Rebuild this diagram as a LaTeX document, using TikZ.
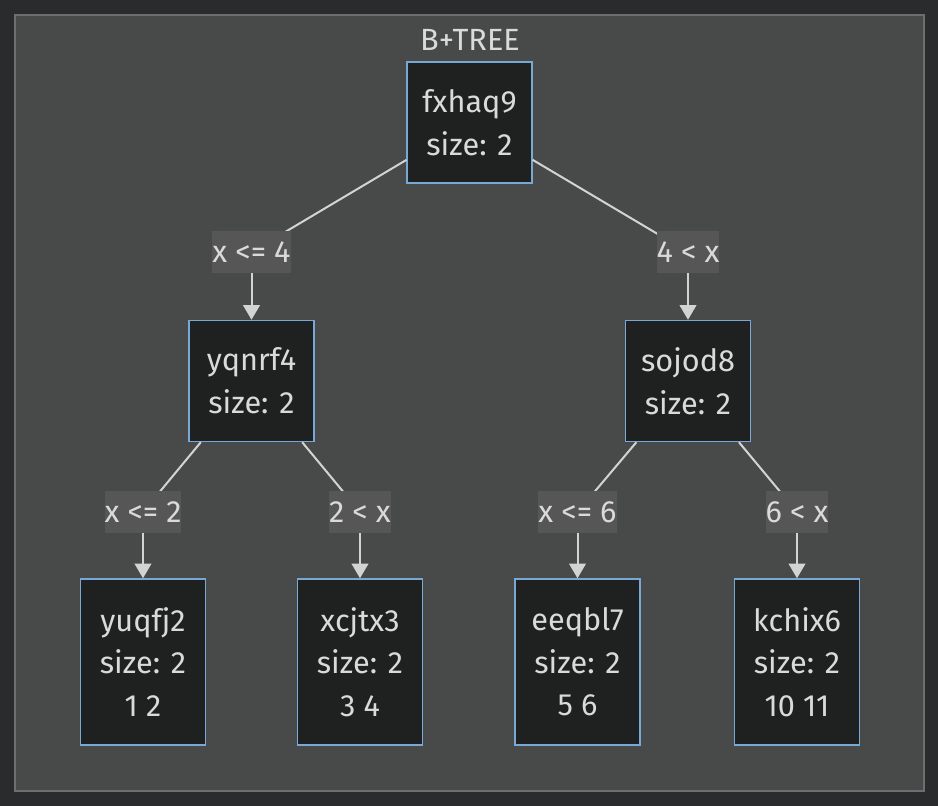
\documentclass[tikz,border=0pt]{standalone}
\usepackage{fontspec}
\setmainfont{Fira Sans}
\usetikzlibrary{arrows.meta}
\definecolor{pagebg}{HTML}{2A2B2D}
\definecolor{framefill}{HTML}{484A49}
\definecolor{frameline}{HTML}{6E6E6E}
\definecolor{nodefill}{HTML}{1F2121}
\definecolor{nodeline}{HTML}{79A8D6}
\definecolor{txt}{HTML}{DADADA}
\definecolor{edgec}{HTML}{D3D3D3}
\definecolor{lblfill}{HTML}{565656}

\begin{document}
\begin{tikzpicture}[x=0.75pt,y=-0.75pt,
  every node/.style={text=txt, font=\fontsize{23}{32}\selectfont},
  box/.style={draw=nodeline, fill=nodefill, line width=1.1pt, align=center, minimum width=93.5pt, inner sep=0pt},
  inner/.style={box, minimum height=90.75pt},
  leaf/.style={box, minimum height=124.5pt},
  lbl/.style={fill=lblfill, inner xsep=0pt, inner ysep=0pt, minimum height=31.5pt},
  edge/.style={draw=edgec, line width=1.5pt},
  arr/.style={edge, -{Triangle[length=11pt,width=12.5pt]}}]
\path[use as bounding box, fill=pagebg] (0,0) rectangle (938,806);
\path[draw=frameline, fill=framefill, line width=1.5pt] (15,15) rectangle (924,791);

\node (title) at (470,40) {B+TREE};

% tree nodes
\node[inner] (fxhaq9) at (469.5,122.5) {fxhaq9\\size: 2};
\node[inner] (yqnrf4) at (251.5,381) {yqnrf4\\size: 2};
\node[inner] (sojod8) at (688,381) {sojod8\\size: 2};
\node[leaf] (yuqfj2) at (143,662) {yuqfj2\\size: 2\\1 2};
\node[leaf] (xcjtx3) at (360,662) {xcjtx3\\size: 2\\3 4};
\node[leaf] (eeqbl7) at (577.5,662) {eeqbl7\\size: 2\\5 6};
\node[leaf] (kchix6) at (797,662) {kchix6\\size: 2\\10 11};

% label points
\coordinate (m1) at (251.5,252);
\coordinate (m2) at (688,252);
\coordinate (m3) at (143,512);
\coordinate (m4) at (360,512);
\coordinate (m5) at (577.5,512);
\coordinate (m6) at (797,512);

\path[edge] (fxhaq9) -- (m1);
\path[arr] (m1) -- (yqnrf4);
\path[edge] (fxhaq9) -- (m2);
\path[arr] (m2) -- (sojod8);
\path[edge] (yqnrf4) -- (m3);
\path[arr] (m3) -- (yuqfj2);
\path[edge] (yqnrf4) -- (m4);
\path[arr] (m4) -- (xcjtx3);
\path[edge] (sojod8) -- (m5);
\path[arr] (m5) -- (eeqbl7);
\path[edge] (sojod8) -- (m6);
\path[arr] (m6) -- (kchix6);

\node[lbl] (l1) at (m1) {x <= 4};
\node[lbl] (l2) at (m2) {4 < x};
\node[lbl] (l3) at (m3) {x <= 2};
\node[lbl] (l4) at (m4) {2 < x};
\node[lbl] (l5) at (m5) {x <= 6};
\node[lbl] (l6) at (m6) {6 < x};
\end{tikzpicture}
\end{document}
